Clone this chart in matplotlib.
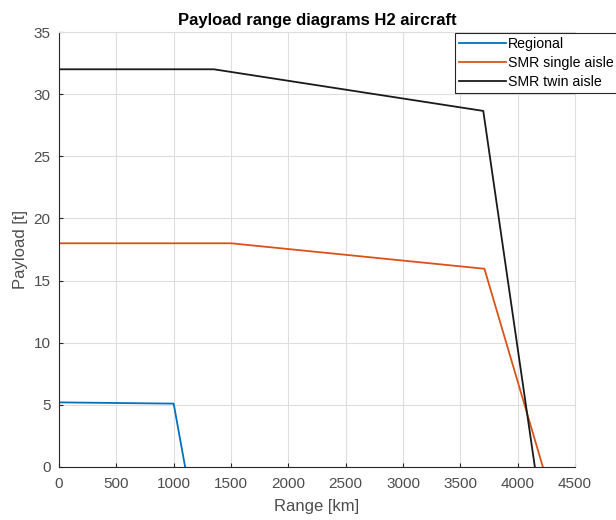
import matplotlib
matplotlib.use("Agg")
import matplotlib.pyplot as plt

plt.rcParams['font.family'] = ['Liberation Sans', 'DejaVu Sans']

regional_range = [0, 1000, 1100]
regional_payload = [5.2, 5.1, 0]
single_range = [0, 1500, 3710, 4220]
single_payload = [18, 18, 15.95, 0]
twin_range = [0, 1350, 3700, 4150]
twin_payload = [32, 32, 28.65, 0]

series_names = ["Regional", "SMR single aisle", "SMR twin aisle"]
colors = [(0, 0.447, 0.741), (0.85, 0.325, 0.098), (0.1, 0.1, 0.1)]

xticks = [0, 500, 1000, 1500, 2000, 2500, 3000, 3500, 4000, 4500]
yticks = [0, 5, 10, 15, 20, 25, 30, 35]

fig = plt.figure(figsize=(6.16, 5.2), dpi=100)
ax = fig.add_axes([59/616, 1-467/520, (575-59)/616, (467-32)/520])

lines = []
for xs, ys, c, n in zip([regional_range, single_range, twin_range],
                        [regional_payload, single_payload, twin_payload],
                        colors, series_names):
    l, = ax.plot(xs, ys, color=c, lw=1.3, label=n)
    lines.append(l)

ax.set_xlim(0, 4500)
ax.set_ylim(0, 35)
ax.set_xticks(xticks)
ax.set_yticks(yticks)
tc = (0.15, 0.15, 0.15)
lc = (0.3, 0.3, 0.3)
ax.tick_params(direction='in', length=3, colors=tc, labelcolor=lc, labelsize=11, top=False, right=False)
ax.tick_params(axis='x', pad=7)
ax.tick_params(axis='y', pad=6)
for k in ['left', 'bottom']:
    ax.spines[k].set_color(tc)
    ax.spines[k].set_linewidth(0.8)
for k in ['top', 'right']:
    ax.spines[k].set_color((0.87, 0.87, 0.87))
    ax.spines[k].set_linewidth(0.8)
ax.grid(True, color=(0.87, 0.87, 0.87), lw=0.8)
ax.set_axisbelow(True)
ax.set_xlabel("Range [km]", fontsize=12, color=lc, labelpad=6)
ax.set_ylabel("Payload [t]", fontsize=12, color=lc, labelpad=4)
ax.set_title("Payload range diagrams H2 aircraft", fontsize=12, fontweight='bold', color='black', pad=5)

leg = fig.legend(handles=lines, loc='upper left', bbox_to_anchor=(455/616, 1-33/520),
                 bbox_transform=fig.transFigure, fontsize=10.2, frameon=True, fancybox=False,
                 edgecolor=tc, framealpha=1, borderpad=0.3, handlelength=3.3,
                 handletextpad=0.15, labelspacing=0.35, borderaxespad=0)
leg.get_frame().set_linewidth(0.8)

fig.savefig("out.png", dpi=100)
